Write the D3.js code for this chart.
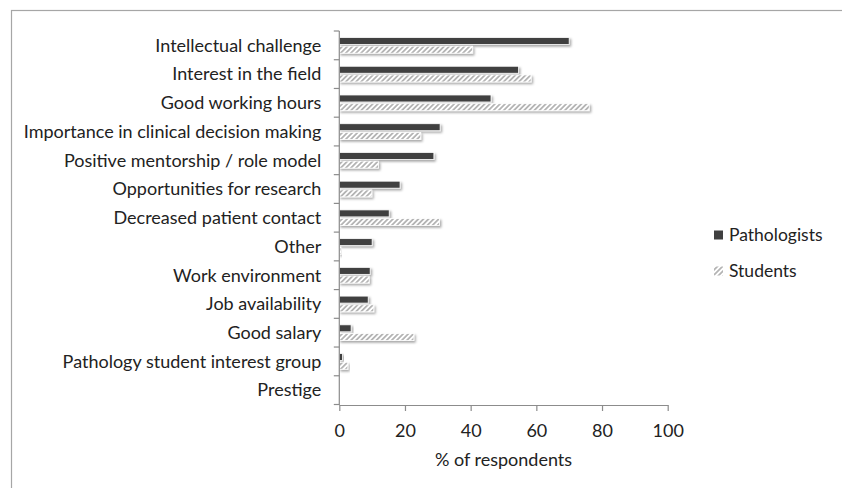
<!DOCTYPE html>
<html>
<head>
<meta charset="utf-8">
<script src="https://cdn.jsdelivr.net/npm/d3@7"></script>
<style>
  html, body { margin: 0; padding: 0; background: #fff; }
  svg { display: block; }
  text { font-family: Lato, "Liberation Sans", sans-serif; fill: #222; }
</style>
</head>
<body>
<svg id="chart" width="842" height="488"></svg>
<script>
// Reasons for choosing pathology, share of respondents (%)
const categories = [
  "Intellectual challenge",
  "Interest in the field",
  "Good working hours",
  "Importance in clinical decision making",
  "Positive mentorship / role model",
  "Opportunities for research",
  "Decreased patient contact",
  "Other",
  "Work environment",
  "Job availability",
  "Good salary",
  "Pathology student interest group",
  "Prestige"
];
const seriesNames = ["Pathologists", "Students"];
const pathologists = [70.0, 54.6, 46.2, 30.7, 28.8, 18.5, 15.2, 10.0, 9.4, 8.8, 3.6, 1.0, 0];
const students     = [40.6, 58.4, 76.1, 24.8, 11.9, 9.9, 30.5, 0.5, 9.1, 10.5, 22.7, 2.6, 0];
const xTicks = [0, 20, 40, 60, 80, 100];
const xTitle = "% of respondents";

const svg = d3.select("#chart");
const W = 842, H = 488;
const fontSize = 18;

// Outer frame (runs off the right and bottom edges)
svg.append("rect")
  .attr("x", 11.5).attr("y", 10.5)
  .attr("width", W).attr("height", H)
  .attr("fill", "#fff").attr("stroke", "#a6a6a6").attr("stroke-width", 1.2);

const defs = svg.append("defs");
const hatch = defs.append("pattern")
  .attr("id", "hatch")
  .attr("patternUnits", "userSpaceOnUse")
  .attr("width", 3.6).attr("height", 3.6)
  .attr("patternTransform", "rotate(45)");
hatch.append("rect").attr("width", 3.6).attr("height", 3.6).attr("fill", "#fff");
hatch.append("rect").attr("x", 0).attr("y", 0).attr("width", 1.8).attr("height", 3.6).attr("fill", "#b4b4b4");

const shadow = defs.append("filter")
  .attr("id", "shadow")
  .attr("x", "-10%").attr("y", "-50%").attr("width", "130%").attr("height", "250%");
shadow.append("feDropShadow")
  .attr("dx", 1.5).attr("dy", 1.8).attr("stdDeviation", 1.2)
  .attr("flood-color", "#000").attr("flood-opacity", 0.35);

const plot = { left: 339.3, right: 667.7, top: 31, bottom: 404.5 };

const x = d3.scaleLinear().domain([0, 100]).range([plot.left, plot.right]);
const y = d3.scaleBand().domain(categories).range([plot.top, plot.bottom]).padding(0);
const inner = d3.scaleBand().domain(seriesNames).range([0, y.bandwidth()])
  .paddingInner(0.195).paddingOuter(0.75);

const fills = { Pathologists: "#404040", Students: "url(#hatch)" };
const values = { Pathologists: pathologists, Students: students };

// Bars
const rows = svg.append("g").selectAll("g")
  .data(categories)
  .join("g")
  .attr("transform", d => `translate(0,${y(d)})`);

seriesNames.forEach(s => {
  rows.filter((d, i) => values[s][i] > 0)
    .append("rect")
    .attr("x", x(0))
    .attr("y", inner(s))
    .attr("width", (d) => x(values[s][categories.indexOf(d)]) - x(0))
    .attr("height", inner.bandwidth())
    .attr("fill", fills[s])
    .attr("stroke", "#fff")
    .attr("stroke-width", 0.8)
    .attr("filter", "url(#shadow)");
});

const axisColor = "#8c8c8c";

// Y axis
const yAxis = svg.append("g")
  .attr("transform", `translate(${plot.left},0)`);
yAxis.append("line")
  .attr("x1", 0).attr("x2", 0)
  .attr("y1", plot.top).attr("y2", plot.bottom + 0.5)
  .attr("stroke", axisColor).attr("stroke-width", 1.2);
yAxis.selectAll("line.tick")
  .data(d3.range(categories.length + 1))
  .join("line")
  .attr("class", "tick")
  .attr("x1", -5.5).attr("x2", 0)
  .attr("y1", i => plot.top + i * y.step())
  .attr("y2", i => plot.top + i * y.step())
  .attr("stroke", axisColor).attr("stroke-width", 1.2);
yAxis.selectAll("text")
  .data(categories)
  .join("text")
  .attr("x", -18)
  .attr("y", d => y(d) + y.bandwidth() / 2)
  .attr("dy", "0.35em")
  .attr("text-anchor", "end")
  .attr("font-size", fontSize)
  .text(d => d);

// X axis
const xAxis = svg.append("g")
  .attr("transform", `translate(0,${plot.bottom + 0.5})`)
  .call(d3.axisBottom(x).tickValues(xTicks).tickSize(6).tickSizeOuter(0).tickPadding(13));
xAxis.select(".domain").attr("stroke", axisColor).attr("stroke-width", 1.2);
xAxis.selectAll(".tick line").attr("stroke", axisColor).attr("stroke-width", 1.2);
xAxis.selectAll(".tick text")
  .attr("font-size", fontSize)
  .attr("font-family", "Lato, 'Liberation Sans', sans-serif")
  .attr("fill", "#222");

svg.append("text")
  .attr("x", (plot.left + plot.right) / 2)
  .attr("y", 459.5)
  .attr("dy", "0.35em")
  .attr("text-anchor", "middle")
  .attr("font-size", fontSize)
  .text(xTitle);

// Legend
const legend = svg.append("g");
const legendY = { Pathologists: 235, Students: 271 };
seriesNames.forEach(s => {
  legend.append("rect")
    .attr("x", 714).attr("y", legendY[s] - 4.5)
    .attr("width", 9).attr("height", 9)
    .attr("fill", fills[s]);
  legend.append("text")
    .attr("x", 729).attr("y", legendY[s])
    .attr("dy", "0.35em")
    .attr("font-size", fontSize - 0.5)
    .text(s);
});
</script>
</body>
</html>
